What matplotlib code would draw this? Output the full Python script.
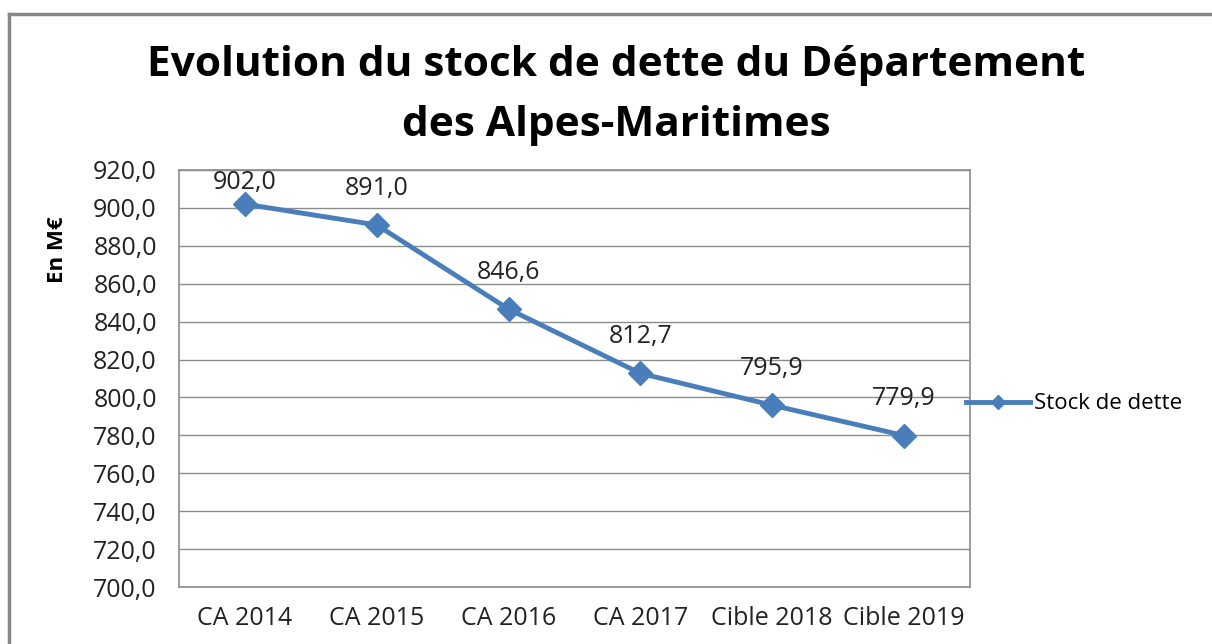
import matplotlib.pyplot as plt
from matplotlib.lines import Line2D

categories = ['CA 2014', 'CA 2015', 'CA 2016', 'CA 2017', 'Cible 2018', 'Cible 2019']
stock = [902.0, 891.0, 846.6, 812.7, 795.9, 779.9]
yticks = [700, 720, 740, 760, 780, 800, 820, 840, 860, 880, 900, 920]

plt.rcParams['font.family'] = ['Open Sans', 'DejaVu Sans']

W, H = 1212, 644
fig = plt.figure(figsize=(W / 100, H / 100), dpi=100)

# outer chart border (top and left only visible, rest is cropped)
fig.add_artist(Line2D([9 / W, 9 / W], [0, 1 - 14 / H], color='#878787', lw=2.5,
                      transform=fig.transFigure))
fig.add_artist(Line2D([9 / W, 1], [1 - 14 / H, 1 - 14 / H], color='#878787', lw=2.5,
                      transform=fig.transFigure))

left, right, top, bottom = 179, 970, 170, 587
ax = fig.add_axes([left / W, 1 - bottom / H, (right - left) / W, (bottom - top) / H])

blue = '#4a7ebb'
x = range(len(categories))
ax.plot(x, stock, color=blue, lw=3.5, marker='D', markersize=12, label='Stock de dette')

# labels sit above the points, kept inside the plot area like Excel does
ymin, ymax = 700, 920
for i, v in zip(x, stock):
    ly = min(v + 19.5, ymax - 6.5)
    ax.text(i, ly, f'{v:.1f}'.replace('.', ','), ha='center', va='center',
            fontsize=18, color='#222222')

ax.set_xlim(-0.5, len(categories) - 0.5)
ax.set_ylim(ymin, ymax)
ax.set_yticks(yticks)
ax.set_yticklabels([f'{t},0' for t in yticks], fontsize=18, color='#222222')
ax.set_xticks(list(x))
ax.set_xticklabels(categories, fontsize=18, color='#222222')
ax.tick_params(length=0)
ax.tick_params(axis='y', pad=16)
ax.tick_params(axis='x', pad=14)
ax.grid(axis='y', color='#8c8c8c', lw=1)
ax.set_axisbelow(True)
for s in ax.spines.values():
    s.set_color('#8c8c8c')
    s.set_linewidth(1.2)

ax.set_ylabel('En M€', fontsize=16, fontweight='bold')
ax.yaxis.set_label_coords(-0.14, 0.81)

fig.text(0.5 + 10 / W, 1 - 65 / H, 'Evolution du stock de dette du Département',
         ha='center', va='center', fontsize=30.5, fontweight='bold')
fig.text(0.5 + 10 / W, 1 - 125 / H, 'des Alpes-Maritimes',
         ha='center', va='center', fontsize=30.5, fontweight='bold')

ax.legend(loc='center left', bbox_to_anchor=(0.995, 0.439), frameon=False, fontsize=16,
          handlelength=2.9, markerscale=0.6, handletextpad=0.15, borderaxespad=0,
          borderpad=0)

fig.savefig('out.png', dpi=100)
